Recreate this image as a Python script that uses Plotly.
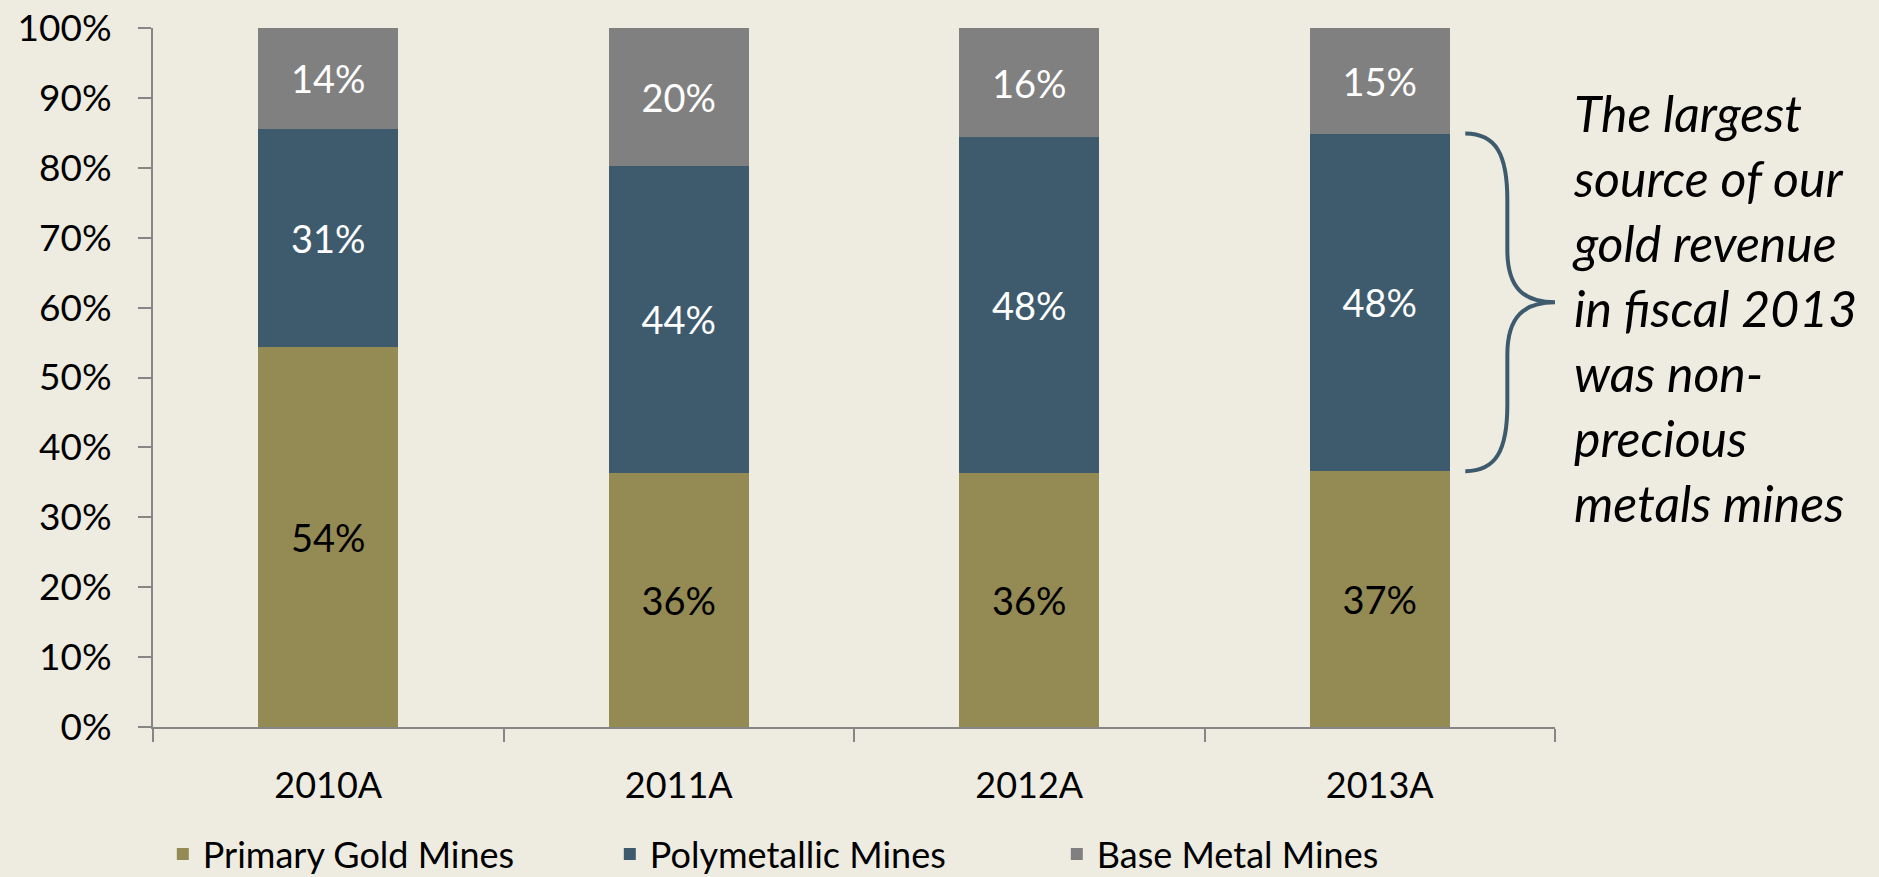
import plotly.graph_objects as go

years = ["2010A", "2011A", "2012A", "2013A"]
primary_gold = [54.4, 36.3, 36.4, 36.6]
polymetallic = [31.2, 44.0, 48.0, 48.3]
base_metal = [14.4, 19.7, 15.6, 15.1]
y_ticks = [0, 10, 20, 30, 40, 50, 60, 70, 80, 90, 100]
y_tick_labels = ["0%", "10%", "20%", "30%", "40%", "50%", "60%", "70%", "80%", "90%", "100%"]
note_lines = ["The largest", "source of our", "gold revenue", "in fiscal 2013",
              "was non-", "precious", "metals mines"]

BG = "#EEECE1"
GOLD = "#948A54"
POLY = "#3E5B6E"
BASE = "#808080"
FONT = "Lato"

fig = go.Figure()
for name, vals, col, tcol in [
    ("Primary Gold Mines", primary_gold, GOLD, "black"),
    ("Polymetallic Mines", polymetallic, POLY, "white"),
    ("Base Metal Mines", base_metal, BASE, "white"),
]:
    fig.add_trace(go.Bar(
        x=years, y=vals, name=name,
        marker=dict(color=col, line=dict(width=0)),
        texttemplate="%{y:.0f}%", textposition="inside",
        insidetextanchor="middle",
        textfont=dict(color=tcol, size=38, family=FONT),
        hoverinfo="skip",
    ))

# curly brace spanning the 2013A Polymetallic segment
top = primary_gold[3] + polymetallic[3]
bot = primary_gold[3]
mid = (top + bot) / 2
x0, xv, xt = 0.936, 0.966, 1.0
r1 = 9.5
r2 = 7.5
path = (f"M {x0},{top} C {x0+0.022},{top} {xv},{top-3} {xv},{top-r1} "
        f"L {xv},{mid+r2} C {xv},{mid+2} {xv+0.012},{mid} {xt},{mid} "
        f"C {xv+0.012},{mid} {xv},{mid-2} {xv},{mid-r2} "
        f"L {xv},{bot+r1} C {xv},{bot+3} {x0+0.022},{bot} {x0},{bot}")
fig.add_shape(type="path", path=path, xref="paper", yref="y",
              line=dict(color=POLY, width=4))

fig.add_annotation(
    text="<i>" + "<br>".join(note_lines) + "</i>",
    xref="paper", yref="y", x=1.0105, y=60.0,
    xanchor="left", yanchor="middle", align="left", showarrow=False,
    font=dict(size=50, family=FONT, color="black"),
)

fig.update_layout(
    barmode="stack", bargap=0.6,
    width=1879, height=877,
    paper_bgcolor=BG, plot_bgcolor=BG,
    margin=dict(l=153, r=324, t=28, b=150, autoexpand=False),
    font=dict(family=FONT, color="black"),
    showlegend=True,
    legend=dict(orientation="h", x=0.007, xanchor="left", y=-0.182, yanchor="middle",
                font=dict(size=36, family=FONT), bgcolor="rgba(0,0,0,0)",
                traceorder="normal", entrywidth=402, entrywidthmode="pixels"),
)
fig.update_xaxes(
    type="category", tickson="boundaries", ticks="outside", ticklen=13,
    tickcolor="#868686", tickwidth=2, showline=True, linecolor="#868686", linewidth=2,
    showgrid=False, tickfont=dict(size=36, family=FONT), ticklabelstandoff=26,
    range=[-0.5, 3.5],
)
fig.update_yaxes(
    range=[0, 100], tickmode="array", tickvals=y_ticks, ticktext=y_tick_labels,
    ticks="outside", ticklen=13,
    tickcolor="#868686", tickwidth=2, showline=True, linecolor="#868686", linewidth=2,
    showgrid=False, zeroline=False, tickfont=dict(size=37, family=FONT),
    ticklabelstandoff=19,
)

fig.write_html(
    "out.html",
    config={"displayModeBar": False},
    post_script="document.body.style.margin='0';document.body.style.background='#EEECE1';",
)
